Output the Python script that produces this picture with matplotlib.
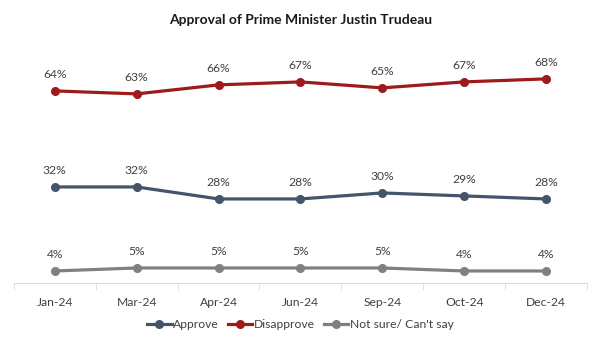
import numpy as np
import matplotlib
matplotlib.use("Agg")
import matplotlib.pyplot as plt

months = ["Jan-24", "Mar-24", "Apr-24", "Jun-24", "Sep-24", "Oct-24", "Dec-24"]
approve = [32, 32, 28, 28, 30, 29, 28]
disapprove = [64, 63, 66, 67, 65, 67, 68]
not_sure = [4, 5, 5, 5, 5, 4, 4]

plt.rcParams['font.family'] = ['Lato', 'DejaVu Sans']

fig = plt.figure(figsize=(6.02, 3.43), dpi=100)
ax = fig.add_axes([0.023, 0.175, 0.952, 0.70])

x = np.arange(len(months))
series = [
    ("Approve", approve, "#44546A"),
    ("Disapprove", disapprove, "#9E1B1B"),
    ("Not sure/ Can't say", not_sure, "#808080"),
]
for name, vals, col in series:
    ax.plot(x, vals, color=col, lw=2.3, marker="o", ms=5.5, label=name)
    for xi, v in zip(x, vals):
        ax.annotate(f"{v}%", (xi, v), xytext=(0, 8), textcoords="offset points",
                    ha="center", va="bottom", fontsize=8.7, color="#404040")

ax.set_xlim(-0.5, len(months) - 0.5)
ax.set_ylim(0, 80)
ax.set_yticks([])
for s in ["top", "right", "left"]:
    ax.spines[s].set_visible(False)
ax.spines["bottom"].set_color("#D9D9D9")
ax.set_xticks(x)
ax.set_xticklabels(months, fontsize=8.7, color="#404040")
ax.tick_params(axis="x", length=0, pad=10)
ax.set_xticks(np.arange(-0.5, len(months)), minor=True)
ax.tick_params(axis="x", which="minor", length=5, color="#D9D9D9")

fig.suptitle("Approval of Prime Minister Justin Trudeau", y=0.96,
             fontsize=10, fontweight="bold", color="#1a1a1a")
ax.legend(loc="upper center", bbox_to_anchor=(0.5, -0.105), ncol=3, frameon=False,
          fontsize=8.7, handlelength=2.0, handletextpad=0.1, columnspacing=0.8,
          labelcolor="#404040")

fig.savefig("out.png", dpi=100)
